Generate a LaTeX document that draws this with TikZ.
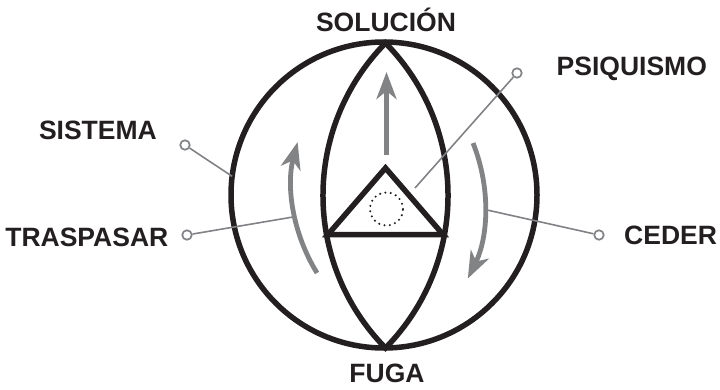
\documentclass[tikz,border=0pt]{standalone}
\usepackage{fontspec}
\setmainfont{Liberation Sans}
\usepackage{tikz}
\usetikzlibrary{arrows.meta, calc}
\definecolor{ink}{HTML}{231F20}
\definecolor{flow}{HTML}{818385}
\definecolor{leadgray}{HTML}{808285}
\tikzset{
  tag/.style={font=\fontsize{26.5}{31}\selectfont\bfseries, text=ink, inner sep=0pt},
  stroke/.style={draw=ink, line width=5.5pt, line join=miter},
  knob/.style={circle, draw=leadgray, line width=1.7pt, fill=white,
               minimum size=9.5pt, inner sep=0pt},
  leader/.style={draw=leadgray, line width=1.6pt},
  flowarrow/.style={-{Stealth[length=27pt, width=20pt, inset=8pt]},
                    draw=flow, line width=4.8pt},
}

\begin{document}
\begin{tikzpicture}[x=1pt, y=1pt]
  \useasboundingbox (0,0) rectangle (720,389);

  % outer system circle and the lens
  \node[circle, draw=ink, line width=5.5pt, minimum size=306pt, inner sep=0pt,
        outer sep=0pt] (sys) at (384,194) {};
  \coordinate (top) at (385.5,346);
  \coordinate (bot) at (385.5,41);
  \draw[stroke] (top) to[bend right=44.5] (bot) to[bend right=44.5] (top) -- cycle;

  % psyche triangle with its dotted core
  \coordinate (apex) at (385.5,221);
  \coordinate (bl) at (328,154.5);
  \coordinate (br) at (443,154.5);
  \draw[stroke] (apex) -- (bl) -- (br) -- cycle;
  \node[circle, minimum size=33pt, inner sep=0pt, draw=ink, line width=2.3pt,
        dash pattern=on 0pt off 5.4pt, line cap=round] (core) at (386.5,180) {};

  % flows
  \coordinate (up0) at (386.5,234);
  \coordinate (up1) at (386.5,317);
  \draw[flowarrow] (up0) -- (up1);
  \coordinate (ls) at ($(459,204)+(211.8:167)$);
  \draw[flowarrow] (ls) arc[start angle=211.8, end angle=165.1, radius=167];
  \coordinate (rs) at ($(319,184)+(21.9:166)$);
  \draw[flowarrow] (rs) arc[start angle=21.9, end angle=-26.3, radius=166];

  % labels
  \node[tag, anchor=base] (sol) at (386,357.5) {SOLUCIÓN};
  \node[tag, anchor=base] (fuga) at (387,7) {FUGA};
  \node[tag, anchor=base east] (sis) at (157,250) {SISTEMA};
  \node[tag, anchor=base east] (tra) at (168.5,142.3) {TRASPASAR};
  \node[tag, anchor=base west] (psi) at (556.5,313) {PSIQUISMO};
  \node[tag, anchor=base west] (ced) at (624,145) {CEDER};

  % leaders
  \node[knob] (ksis) at (185,244) {};
  \node[knob] (ktra) at (187,154) {};
  \node[knob] (kpsi) at (517,316) {};
  \node[knob] (kced) at (599,154) {};
  \coordinate (etra) at (293,172);
  \coordinate (epsi) at (415,201);
  \coordinate (eced) at (487,179);
  \draw[leader] (ksis) -- (sys.173.3);
  \draw[leader] (ktra) -- (etra);
  \draw[leader] (kpsi) -- (epsi);
  \draw[leader] (kced) -- (eced);
\end{tikzpicture}
\end{document}
